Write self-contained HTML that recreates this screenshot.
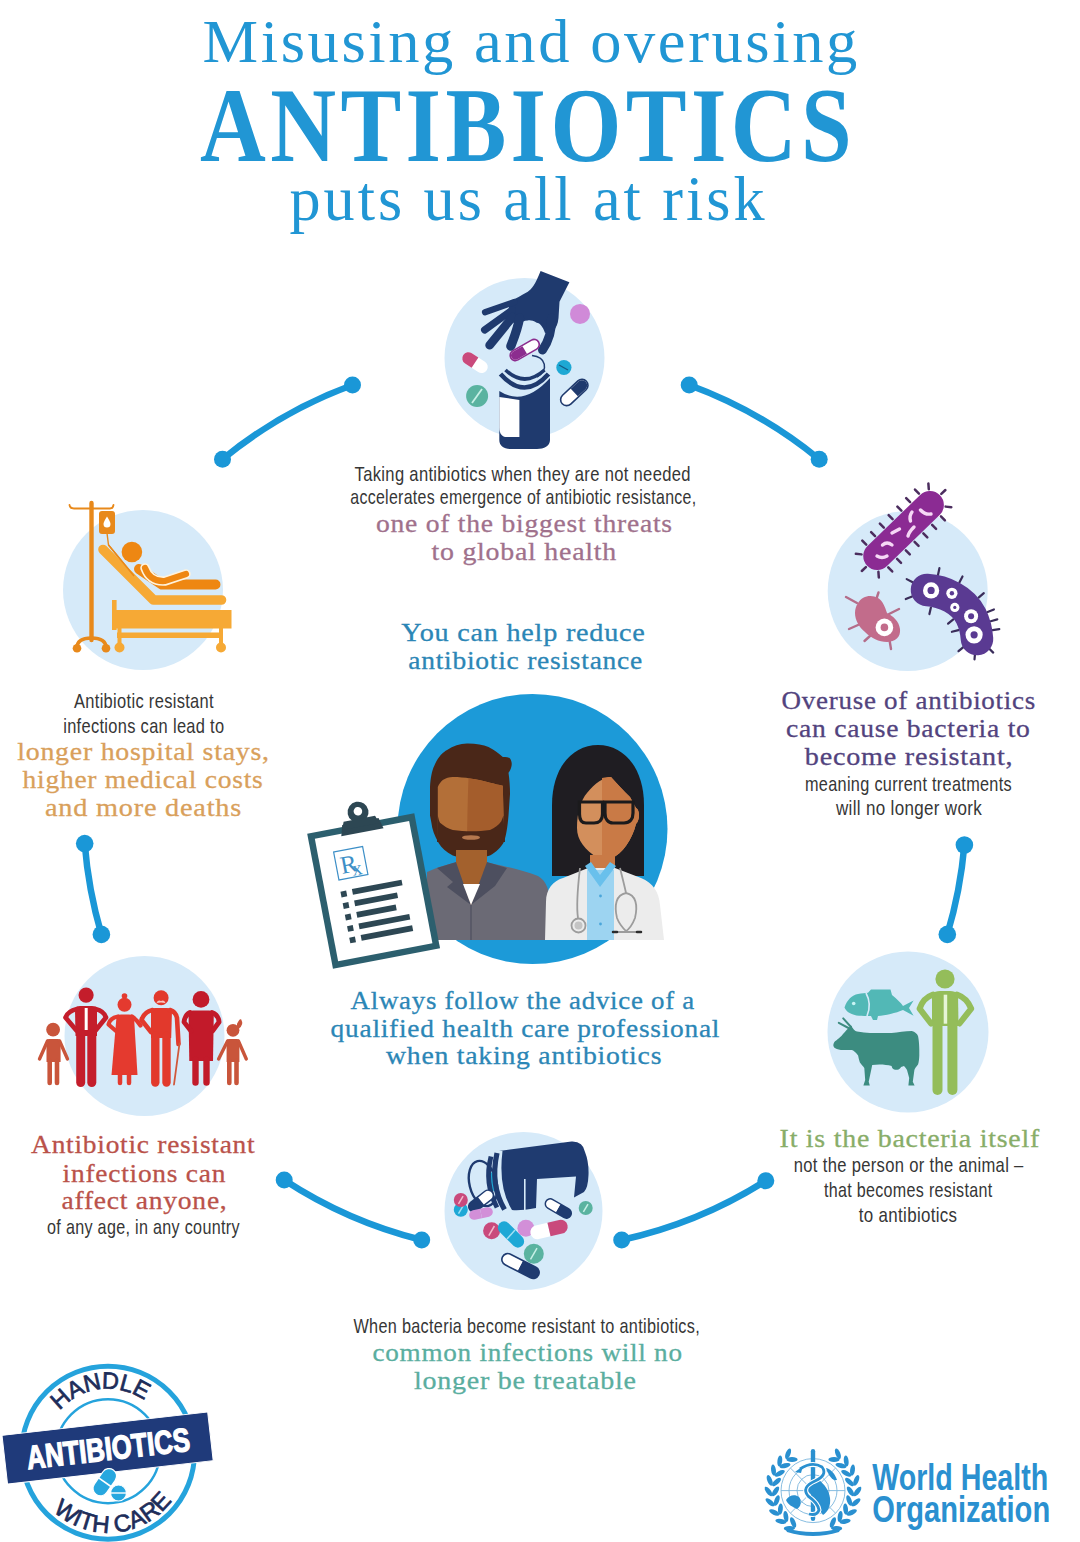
<!DOCTYPE html>
<html><head><meta charset="utf-8">
<style>
html,body{margin:0;padding:0;background:#fff;}
body{width:1080px;height:1542px;overflow:hidden;position:relative;}
svg{position:absolute;left:0;top:0;display:block;}
.ser{font-family:"Liberation Serif",serif;}
.san{font-family:"Liberation Sans",sans-serif;}
.sb{font-family:"Liberation Serif",serif;font-size:26px;stroke-width:0.3px;letter-spacing:0.7px;}
.cs{font-family:"Liberation Sans",sans-serif;font-size:21px;fill:#363636;letter-spacing:0.4px;}
</style></head>
<body>
<svg width="1080" height="1542" viewBox="0 0 1080 1542">
<!-- TITLE -->
<g fill="#2196d4" text-anchor="middle">
<text class="ser" x="531.20" y="61.6" font-size="61" letter-spacing="2.5" textLength="657.20" lengthAdjust="spacingAndGlyphs">Misusing and overusing</text>
<text class="ser" x="528" y="161" font-size="105" font-weight="bold" letter-spacing="5" textLength="656" lengthAdjust="spacingAndGlyphs">ANTIBIOTICS</text>
<text class="ser" x="528.5" y="220" font-size="63" letter-spacing="3" textLength="478" lengthAdjust="spacingAndGlyphs">puts us all at risk</text>
</g>

<!-- ARCS -->
<g stroke="#1a97d7" stroke-width="6.5" fill="none" stroke-linecap="round">
<path d="M222.5 459.2 A448 448 0 0 1 352.5 385"/>
<path d="M689.2 385 A448 448 0 0 1 819.2 459.2"/>
<path d="M84.7 843.6 A448 448 0 0 0 101.4 934.4"/>
<path d="M964.4 845 A448 448 0 0 1 947.3 934.4"/>
<path d="M284.2 1180 A448 448 0 0 0 421.7 1240"/>
<path d="M621.7 1240 A448 448 0 0 0 765.8 1180.8"/>
</g>
<g fill="#1a97d7">
<circle cx="222.5" cy="459.2" r="8.5"/><circle cx="352.5" cy="385" r="8.5"/>
<circle cx="689.2" cy="385" r="8.5"/><circle cx="819.2" cy="459.2" r="8.5"/>
<circle cx="84.7" cy="843.6" r="8.8"/><circle cx="101.4" cy="934.4" r="8.8"/>
<circle cx="964.4" cy="845" r="8.8"/><circle cx="947.3" cy="934.4" r="8.8"/>
<circle cx="284.2" cy="1180" r="8.5"/><circle cx="421.7" cy="1240" r="8.5"/>
<circle cx="621.7" cy="1240" r="8.5"/><circle cx="765.8" cy="1180.8" r="8.5"/>
</g>

<!-- CIRCLES -->
<g fill="#d6eaf9">
<circle cx="524.5" cy="358" r="80"/>
<circle cx="143" cy="590" r="80"/>
<circle cx="907.7" cy="591" r="80"/>
<circle cx="144.5" cy="1036" r="80"/>
<circle cx="908" cy="1032" r="80.5"/>
<circle cx="523.5" cy="1211" r="79"/>
</g>
<circle cx="532.5" cy="829" r="135" fill="#1c9ad8"/>

<!-- TEXT BLOCKS -->
<g text-anchor="middle">
<text class="cs" x="522.70" y="480.5" textLength="336.20" lengthAdjust="spacingAndGlyphs">Taking antibiotics when they are not needed</text>
<text class="cs" x="523.35" y="504.3" textLength="346.20" lengthAdjust="spacingAndGlyphs">accelerates emergence of antibiotic resistance,</text>
<g class="sb" fill="#a0718c" stroke="#a0718c">
<text x="524.40" y="531.5" textLength="296.80" lengthAdjust="spacingAndGlyphs">one of the biggest threats</text>
<text x="524.25" y="560" textLength="185.50" lengthAdjust="spacingAndGlyphs">to global health</text>
</g>
<g class="sb" fill="#2b86b6" stroke="#2b86b6">
<text x="523.51" y="640.5" textLength="244.25" lengthAdjust="spacingAndGlyphs">You can help reduce</text>
<text x="525.64" y="668.75" textLength="234.75" lengthAdjust="spacingAndGlyphs">antibiotic resistance</text>
<text x="522.80" y="1008.5" textLength="344.40" lengthAdjust="spacingAndGlyphs">Always follow the advice of a</text>
<text x="525.40" y="1037" textLength="389.60" lengthAdjust="spacingAndGlyphs">qualified health care professional</text>
<text x="524.10" y="1064.3" textLength="276.20" lengthAdjust="spacingAndGlyphs">when taking antibiotics</text>
</g>
<text class="cs" x="143.97" y="707.5" textLength="140.00" lengthAdjust="spacingAndGlyphs">Antibiotic resistant</text>
<text class="cs" x="143.84" y="732.5" textLength="161.25" lengthAdjust="spacingAndGlyphs">infections can lead to</text>
<g class="sb" fill="#d9a05b" stroke="#d9a05b">
<text x="143.50" y="760" textLength="252.50" lengthAdjust="spacingAndGlyphs">longer hospital stays,</text>
<text x="143.00" y="787.5" textLength="241.00" lengthAdjust="spacingAndGlyphs">higher medical costs</text>
<text x="143.50" y="816" textLength="197.00" lengthAdjust="spacingAndGlyphs">and more deaths</text>
</g>
<g class="sb" fill="#52437e" stroke="#52437e">
<text x="908.80" y="708.9" textLength="254.40" lengthAdjust="spacingAndGlyphs">Overuse of antibiotics</text>
<text x="908.30" y="736.9" textLength="244.60" lengthAdjust="spacingAndGlyphs">can cause bacteria to</text>
<text x="909.10" y="764.9" textLength="208.50" lengthAdjust="spacingAndGlyphs">become resistant,</text>
</g>
<text class="cs" x="908.50" y="790.8" textLength="207.00" lengthAdjust="spacingAndGlyphs">meaning current treatments</text>
<text class="cs" x="909.00" y="814.6" textLength="146.00" lengthAdjust="spacingAndGlyphs">will no longer work</text>
<g class="sb" fill="#ba524a" stroke="#ba524a">
<text x="143.25" y="1153.2" textLength="224.30" lengthAdjust="spacingAndGlyphs">Antibiotic resistant</text>
<text x="144.4" y="1181.7" textLength="163.6" lengthAdjust="spacingAndGlyphs">infections can</text>
<text x="144.50" y="1208.8" textLength="166.00" lengthAdjust="spacingAndGlyphs">affect anyone,</text>
</g>
<text class="cs" x="143.42" y="1233.8" textLength="192.75" lengthAdjust="spacingAndGlyphs">of any age, in any country</text>
<g class="sb" fill="#88ad68" stroke="#88ad68">
<text x="909.80" y="1147.2" textLength="260.40" lengthAdjust="spacingAndGlyphs">It is the bacteria itself</text>
</g>
<text class="cs" x="908.70" y="1171.9" textLength="229.80" lengthAdjust="spacingAndGlyphs">not the person or the animal –</text>
<text class="cs" x="908.20" y="1197" textLength="168.50" lengthAdjust="spacingAndGlyphs">that becomes resistant</text>
<text class="cs" x="908.10" y="1221.6" textLength="98.60" lengthAdjust="spacingAndGlyphs">to antibiotics</text>
<text class="cs" x="526.70" y="1333.3" textLength="346.60" lengthAdjust="spacingAndGlyphs">When bacteria become resistant to antibiotics,</text>
<g class="sb" fill="#5aae9f" stroke="#5aae9f">
<text x="527.60" y="1361.4" textLength="310.20" lengthAdjust="spacingAndGlyphs">common infections will no</text>
<text x="525.40" y="1388.8" textLength="222.80" lengthAdjust="spacingAndGlyphs">longer be treatable</text>
</g>
</g>

<!-- ICONS -->
<!-- BADGE -->
<g id="badge">
<circle cx="108" cy="1452.7" r="86.5" fill="#ffffff" stroke="#25a3dc" stroke-width="5"/>
<circle cx="108" cy="1451.2" r="52" fill="none" stroke="#25a3dc" stroke-width="2.4"/>
<defs><path id="arcTop" d="M 45.0,1441.6 A 64,64 0 0 1 171.0,1441.6"/>
<path id="arcBot" d="M 32.8,1480.1 A 80,80 0 0 0 183.2,1480.1"/></defs>
<text font-family="Liberation Sans,sans-serif" font-size="23.5" fill="#1d2d5a" stroke="#1d2d5a" stroke-width="0.7" letter-spacing="-0.3"><textPath href="#arcTop" startOffset="45.5%" text-anchor="middle">HANDLE</textPath></text>
<text font-family="Liberation Sans,sans-serif" font-size="24" fill="#1d2d5a" stroke="#1d2d5a" stroke-width="0.7" letter-spacing="0"><textPath href="#arcBot" startOffset="53.5%" text-anchor="middle">WITH CARE</textPath></text>
<g transform="translate(2,1435.4) rotate(-6.5)">
<rect x="0" y="0" width="207" height="49" fill="#1f3a7a" stroke="#ffffff" stroke-width="1"/>
<text x="104" y="36.5" font-family="Liberation Sans,sans-serif" font-weight="bold" font-size="33" fill="#ffffff" stroke="#ffffff" stroke-width="1.3" text-anchor="middle" textLength="164" lengthAdjust="spacingAndGlyphs">ANTIBIOTICS</text>
</g>
<g transform="translate(104.8,1482.2) rotate(-55)"><rect x="-15" y="-7.5" width="30" height="15" rx="7.5" fill="#27a7df" stroke="#ffffff" stroke-width="1.2"/><line x1="0" y1="-7.5" x2="0" y2="7.5" stroke="#ffffff" stroke-width="1.6"/></g>
<circle cx="118.5" cy="1493" r="8" fill="#27a7df" stroke="#ffffff" stroke-width="1.2"/><line x1="110.5" y1="1493" x2="126.5" y2="1493" stroke="#ffffff" stroke-width="1.4"/>
</g>
<!-- WHO -->
<g id="who" fill="#2a90d0">
<text x="872.2" y="1490" font-family="Liberation Sans,sans-serif" font-weight="bold" font-size="36" textLength="176" lengthAdjust="spacingAndGlyphs">World Health</text>
<text x="872.2" y="1522" font-family="Liberation Sans,sans-serif" font-weight="bold" font-size="36" textLength="178" lengthAdjust="spacingAndGlyphs">Organization</text>
<g fill="none" stroke="#7ab6dc" stroke-width="0.9"><circle cx="813" cy="1490.6" r="32"/><circle cx="813" cy="1490.6" r="24"/><circle cx="813" cy="1490.6" r="16"/><circle cx="813" cy="1490.6" r="8"/><line x1="781" y1="1490.6" x2="845" y2="1490.6"/><line x1="790.4" y1="1468.0" x2="835.6" y2="1513.1999999999998"/><line x1="790.4" y1="1513.1999999999998" x2="835.6" y2="1468.0"/></g>
<path d="M786,1500 C789,1495 795,1494 799,1497 C802,1501 801,1507 797,1509 C793,1507 788,1505 786,1500 Z"/>
<path d="M805,1486 C809,1481 814,1478 819,1480 C824,1484 829,1490 830,1498 C831,1505 828,1512 823,1515 C819,1510 818,1503 814,1497 C810,1493 806,1491 805,1486 Z"/>
<path d="M826,1468 C831,1469 835,1474 837,1480 C833,1481 829,1477 826,1468 Z"/>
<rect x="810.8" y="1449" width="4.4" height="72" rx="2.2"/>
<path d="M800,1469 Q812,1461 822,1467 Q828,1475 815,1481 Q801,1487 808,1496 Q818,1503 819,1510 Q817,1516 809,1514" fill="none" stroke="#ffffff" stroke-width="5"/>
<path d="M800,1469 Q812,1461 822,1467 Q828,1475 815,1481 Q801,1487 808,1496 Q818,1503 819,1510 Q817,1516 809,1514" fill="none" stroke="#2a90d0" stroke-width="2.8"/>
<path d="M795,1472 L803,1466 L801,1473 Z"/>
<ellipse cx="788.1" cy="1453.7" rx="5.6" ry="2.4" transform="rotate(-69.0 788.1 1453.7)"/><ellipse cx="792.0" cy="1459.5" rx="5.6" ry="2.4" transform="rotate(1.0 792.0 1459.5)"/><ellipse cx="779.8" cy="1461.0" rx="5.6" ry="2.4" transform="rotate(-83.3 779.8 1461.0)"/><ellipse cx="785.0" cy="1465.6" rx="5.6" ry="2.4" transform="rotate(-13.3 785.0 1465.6)"/><ellipse cx="773.5" cy="1470.1" rx="5.6" ry="2.4" transform="rotate(-97.5 773.5 1470.1)"/><ellipse cx="779.7" cy="1473.3" rx="5.6" ry="2.4" transform="rotate(-27.5 779.7 1473.3)"/><ellipse cx="769.7" cy="1480.4" rx="5.6" ry="2.4" transform="rotate(-111.8 769.7 1480.4)"/><ellipse cx="776.5" cy="1482.0" rx="5.6" ry="2.4" transform="rotate(-41.8 776.5 1482.0)"/><ellipse cx="768.5" cy="1491.4" rx="5.6" ry="2.4" transform="rotate(-126.0 768.5 1491.4)"/><ellipse cx="775.5" cy="1491.3" rx="5.6" ry="2.4" transform="rotate(-56.0 775.5 1491.3)"/><ellipse cx="770.1" cy="1502.3" rx="5.6" ry="2.4" transform="rotate(-140.2 770.1 1502.3)"/><ellipse cx="776.8" cy="1500.5" rx="5.6" ry="2.4" transform="rotate(-70.2 776.8 1500.5)"/><ellipse cx="774.3" cy="1512.5" rx="5.6" ry="2.4" transform="rotate(-154.5 774.3 1512.5)"/><ellipse cx="780.4" cy="1509.1" rx="5.6" ry="2.4" transform="rotate(-84.5 780.4 1509.1)"/><ellipse cx="780.9" cy="1521.4" rx="5.6" ry="2.4" transform="rotate(-168.8 780.9 1521.4)"/><ellipse cx="785.9" cy="1516.5" rx="5.6" ry="2.4" transform="rotate(-98.8 785.9 1516.5)"/><ellipse cx="789.4" cy="1528.3" rx="5.6" ry="2.4" transform="rotate(-183.0 789.4 1528.3)"/><ellipse cx="793.1" cy="1522.4" rx="5.6" ry="2.4" transform="rotate(-113.0 793.1 1522.4)"/><ellipse cx="837.9" cy="1453.7" rx="5.6" ry="2.4" transform="rotate(-111.0 837.9 1453.7)"/><ellipse cx="834.0" cy="1459.5" rx="5.6" ry="2.4" transform="rotate(-181.0 834.0 1459.5)"/><ellipse cx="846.2" cy="1461.0" rx="5.6" ry="2.4" transform="rotate(-96.8 846.2 1461.0)"/><ellipse cx="841.0" cy="1465.6" rx="5.6" ry="2.4" transform="rotate(-166.8 841.0 1465.6)"/><ellipse cx="852.5" cy="1470.1" rx="5.6" ry="2.4" transform="rotate(-82.5 852.5 1470.1)"/><ellipse cx="846.3" cy="1473.3" rx="5.6" ry="2.4" transform="rotate(-152.5 846.3 1473.3)"/><ellipse cx="856.3" cy="1480.4" rx="5.6" ry="2.4" transform="rotate(-68.2 856.3 1480.4)"/><ellipse cx="849.5" cy="1482.0" rx="5.6" ry="2.4" transform="rotate(-138.2 849.5 1482.0)"/><ellipse cx="857.5" cy="1491.4" rx="5.6" ry="2.4" transform="rotate(-54.0 857.5 1491.4)"/><ellipse cx="850.5" cy="1491.3" rx="5.6" ry="2.4" transform="rotate(-124.0 850.5 1491.3)"/><ellipse cx="855.9" cy="1502.3" rx="5.6" ry="2.4" transform="rotate(-39.8 855.9 1502.3)"/><ellipse cx="849.2" cy="1500.5" rx="5.6" ry="2.4" transform="rotate(-109.8 849.2 1500.5)"/><ellipse cx="851.7" cy="1512.5" rx="5.6" ry="2.4" transform="rotate(-25.5 851.7 1512.5)"/><ellipse cx="845.6" cy="1509.1" rx="5.6" ry="2.4" transform="rotate(-95.5 845.6 1509.1)"/><ellipse cx="845.1" cy="1521.4" rx="5.6" ry="2.4" transform="rotate(-11.3 845.1 1521.4)"/><ellipse cx="840.1" cy="1516.5" rx="5.6" ry="2.4" transform="rotate(-81.2 840.1 1516.5)"/><ellipse cx="836.6" cy="1528.3" rx="5.6" ry="2.4" transform="rotate(3.0 836.6 1528.3)"/><ellipse cx="832.9" cy="1522.4" rx="5.6" ry="2.4" transform="rotate(-67.0 832.9 1522.4)"/><path d="M785,1528 Q813,1536 841,1528 L839,1532 Q813,1540 787,1532 Z"/>
</g>
<!-- ANIMALS -->
<g id="animals">
<path fill="#52b8b6" d="M844.5,1007.5 C847,1000 852,995 858,994 C862,993.5 865,993 868,992.8 L871,989.5 L890.5,989.5 L892,995 C897,999 901,1003 903,1006 L913.6,1000.5 L909,1008 L913.6,1015.8 L903,1010 C896,1013 885,1015.5 878,1016 L877,1020 L873,1020 L871,1016 C866,1016 862,1016 859,1015.8 C852,1015 846,1012 844.5,1007.5 Z"/>
<path d="M866,993 Q872,1004 867,1016" fill="none" stroke="#d6eaf9" stroke-width="1.6"/>
<circle cx="853.7" cy="1003.5" r="1.8" fill="#c8f4f4"/>
<path fill="#3c8c80" d="M851,1025.5 C853,1029 855,1031 857,1031.6 C862,1032.5 866,1033 870,1033 L891.6,1033 C898,1032.5 905,1031 911.8,1031 C915,1032 917,1033.5 918,1036 C919,1040 919.5,1048 919.3,1055.4 C919.2,1059 918.8,1062 918,1064.5 C916,1067 915,1068 914.4,1070 L912.8,1081.7 L914.6,1085.4 L908.4,1085.4 L909.2,1078 L907,1070 C906,1068 905,1067 903.9,1066 C902,1066.5 901,1067 900.4,1068 C899.5,1069.6 897,1070 895,1069.8 C893,1069.5 892,1068 891.6,1066 C888,1065 884,1064.5 879.3,1064.5 L872.2,1065 L871.3,1069.4 L868.7,1081.7 L869.8,1085.4 L863.4,1085.4 L865.2,1080 L864.3,1068 C863,1066 861,1064 859.9,1062.4 C859,1060 858.5,1057 858.1,1055.4 C856,1052.5 854,1051 852,1050.1 L843.2,1050.1 C840,1050 837,1049.5 835.3,1048.3 C833.5,1047 833,1045.5 833.5,1043.9 C834,1042 835,1041 836.2,1040.4 C838,1039 840,1037.5 841.4,1036 C844,1033 846,1030.5 847.6,1029 Z"/>
<path d="M851,1027 L843.2,1018.4 M848.5,1028 L838.8,1022.8" stroke="#3c8c80" stroke-width="2" stroke-linecap="round"/>
<g fill="#94bd5a" stroke="#94bd5a" stroke-linecap="round" stroke-linejoin="round">
<circle cx="945" cy="979" r="9.6" stroke="none"/>
<path d="M932,994 Q935,991 940,991 L950,991 Q955,991 958,994 L958.5,1026 L932,1026 Z" stroke="none"/>
<path d="M933,994.5 Q923,998 919.6,1008.7 L931,1023.5" fill="none" stroke-width="6"/>
<path d="M957,994.5 Q967,998 971.2,1008.7 L959.5,1023.5" fill="none" stroke-width="6"/>
<path d="M937.5,1024 L937.5,1090" fill="none" stroke-width="10"/>
<path d="M952.4,1024 L952.4,1090" fill="none" stroke-width="10"/>
<rect x="943.7" y="994.7" width="3.5" height="29" fill="#e6f5d6" stroke="none"/>
</g></g>
<!-- SPILLED PILLS -->
<g id="spilled">
<ellipse cx="483" cy="1183.5" rx="13.5" ry="23" transform="rotate(-14 483 1183.5)" fill="none" stroke="#1f3b70" stroke-width="2.4"/><path d="M492,1172 Q498,1180 496,1192 Q490,1190 487,1182 Q487,1175 492,1172 Z" fill="#1ea8d6"/>
<path fill="#1f3b70" d="M499,1151 L571.5,1141.5 Q583,1141 585,1152 Q589,1162 588.5,1175 Q588,1188 584,1192 L574,1197.5 L576,1176.5 L537,1179 L536,1208 Q520,1211 512,1210 Q498,1188 502.5,1151 Z"/>
<path d="M491,1156.5 Q484,1183 497,1207.5" fill="none" stroke="#1f3b70" stroke-width="4.8"/>
<path d="M497,1153 Q490,1185 504.5,1209.5" fill="none" stroke="#1f3b70" stroke-width="5.2"/>
<path d="M524.8,1179 L524.8,1210" fill="none" stroke="#d6eaf9" stroke-width="1.6"/>

<circle cx="460.8" cy="1209.7" r="7" fill="#1ea8d6"/><line x1="458.5" y1="1213.6" x2="463.1" y2="1205.8" stroke="#9ee0f4" stroke-width="1.5"/>
<circle cx="460.8" cy="1200" r="7" fill="#c94a7c"/><line x1="458.5" y1="1203.9" x2="463.1" y2="1196.1" stroke="#f2b8cc" stroke-width="1.5"/>
<g transform="translate(481,1201) rotate(-38)"><rect x="-15.0" y="-6.0" width="30" height="12" rx="6.0" fill="#1f3b70"/><path d="M0,-4.6 L-9.0,-4.6 A4.6,4.6 0 0 0 -9.0,4.6 L0,4.6 Z" fill="#1f3b70"/><path d="M0,-4.6 L9.0,-4.6 A4.6,4.6 0 0 1 9.0,4.6 L0,4.6 Z" fill="#ffffff"/></g>
<g transform="translate(481,1213.5) rotate(-12)"><path d="M0,-4.75 L-7.25,-4.75 A4.75,4.75 0 0 0 -7.25,4.75 L0,4.75 Z" fill="#d28fd8"/><path d="M0,-4.75 L7.25,-4.75 A4.75,4.75 0 0 1 7.25,4.75 L0,4.75 Z" fill="#d28fd8"/></g>
<circle cx="491.6" cy="1230.8" r="8.5" fill="#c94a7c"/><line x1="488.8" y1="1235.6" x2="494.4" y2="1226.0" stroke="#f2b8cc" stroke-width="1.5"/>
<g transform="translate(511,1234.5) rotate(45)"><path d="M0,-6.25 L-9.75,-6.25 A6.25,6.25 0 0 0 -9.75,6.25 L0,6.25 Z" fill="#1ea8d6"/><path d="M0,-6.25 L9.75,-6.25 A6.25,6.25 0 0 1 9.75,6.25 L0,6.25 Z" fill="#1ea8d6"/></g>
<line x1="507" y1="1239" x2="515" y2="1230" stroke="#9ee0f4" stroke-width="1.4"/>
<circle cx="525.9" cy="1228.2" r="8.5" fill="#d28fd8"/>
<g transform="translate(549,1229.5) rotate(-13)"><path d="M0,-7.0 L-12.0,-7.0 A7.0,7.0 0 0 0 -12.0,7.0 L0,7.0 Z" fill="#ffffff"/><path d="M0,-7.0 L12.0,-7.0 A7.0,7.0 0 0 1 12.0,7.0 L0,7.0 Z" fill="#c94a7c"/></g>
<circle cx="533.8" cy="1253.7" r="10" fill="#5ab3a0"/><line x1="530.5" y1="1259.3" x2="537.0" y2="1248.1" stroke="#c8f0e6" stroke-width="1.5"/>
<g transform="translate(520.5,1266) rotate(27)"><rect x="-21.0" y="-6.75" width="42" height="13.5" rx="6.75" fill="#1f3b70"/><path d="M0,-5.15 L-14.249999999999998,-5.15 A5.15,5.15 0 0 0 -14.249999999999998,5.15 L0,5.15 Z" fill="#ffffff"/><path d="M0,-5.15 L14.249999999999998,-5.15 A5.15,5.15 0 0 1 14.249999999999998,5.15 L0,5.15 Z" fill="#1f3b70"/></g>
<g transform="translate(558.3,1208.5) rotate(30)"><rect x="-15.0" y="-5.75" width="30" height="11.5" rx="5.75" fill="#1f3b70"/><path d="M0,-4.25 L-9.25,-4.25 A4.25,4.25 0 0 0 -9.25,4.25 L0,4.25 Z" fill="#ffffff"/><path d="M0,-4.25 L9.25,-4.25 A4.25,4.25 0 0 1 9.25,4.25 L0,4.25 Z" fill="#1f3b70"/></g>
<circle cx="585.7" cy="1208" r="7" fill="#5ab3a0"/><line x1="583.4" y1="1211.9" x2="588.0" y2="1204.1" stroke="#c8f0e6" stroke-width="1.5"/>
</g>
<!-- PEOPLE -->
<g id="people" stroke-linecap="round" stroke-linejoin="round">
<!-- child left -->
<g fill="#c9553b" stroke="#c9553b">
<circle cx="53.1" cy="1029.7" r="6.9" stroke="none"/>
<path d="M46.5,1041 Q46.5,1039 49,1039 L58,1039 Q60.6,1039 60.6,1041 L60.6,1062 L46.5,1062 Z" stroke="none"/>
<path d="M47.5,1041 L39.5,1059" fill="none" stroke-width="3.4"/>
<path d="M59.6,1041 L67.5,1059" fill="none" stroke-width="3.4"/>
<path d="M49.7,1061 L49.7,1083" fill="none" stroke-width="4.6"/>
<path d="M57,1061 L57,1083" fill="none" stroke-width="4.6"/>
</g>
<!-- man -->
<g fill="#c41d2b" stroke="#c41d2b">
<circle cx="86.1" cy="995.1" r="7.6" stroke="none"/>
<path d="M75,1009 Q76,1006 80,1006 L92,1006 Q96.5,1006 97,1009 L97,1036 L75.5,1036 Z" stroke="none"/>
<path d="M77,1009 Q68,1011 65.5,1017.5 L76.5,1030.5" fill="none" stroke-width="4.8"/>
<path d="M95.5,1009 Q104,1011 106,1017.5 L95.5,1030.5" fill="none" stroke-width="4.8"/>
<path d="M80.7,1034 L80.7,1082.5" fill="none" stroke-width="9"/>
<path d="M91.8,1034 L91.8,1082.5" fill="none" stroke-width="9"/>
<rect x="84.7" y="1008" width="3" height="22" fill="#ffffff" stroke="none"/>
</g>
<!-- grandma -->
<g fill="#e43a2f" stroke="#e43a2f">
<circle cx="124.5" cy="1004.7" r="7" stroke="none"/>
<circle cx="124.5" cy="996" r="2.8" stroke="none"/>
<path d="M116.5,1017 Q117,1014.5 121,1014.5 L129,1014.5 Q133.5,1014.5 134,1017 L137.5,1075 L111.5,1075 Z" stroke="none"/>
<path d="M118,1016.5 Q110,1018 108.5,1024.5 L116,1031" fill="none" stroke-width="4.2"/>
<path d="M132,1016.5 Q137,1020 140.5,1025.5" fill="none" stroke-width="4.2"/>
<path d="M120,1074 L120,1083" fill="none" stroke-width="4.5"/>
<path d="M129,1074 L129,1083" fill="none" stroke-width="4.5"/>
</g>
<!-- grandpa -->
<g fill="#e2392c" stroke="#e2392c">
<circle cx="161.1" cy="997.8" r="7.5" stroke="none"/>
<path d="M151,1010 Q151.5,1008 155,1008 L167,1008 Q171.5,1008 172,1010 L171.2,1038 L151,1038 Z" stroke="none"/>
<path d="M152.5,1010 Q144,1012 141.5,1020 L151,1032" fill="none" stroke-width="4.6"/>
<path d="M170,1010 Q176,1012 177,1018 L178.5,1044" fill="none" stroke-width="4.6"/>
<path d="M155.3,1036 L155.3,1082.5" fill="none" stroke-width="8.4"/>
<path d="M166.5,1036 L166.5,1082.5" fill="none" stroke-width="8.4"/>
<path d="M179.5,1043.5 L174,1084.5" fill="none" stroke="#d0583b" stroke-width="1.8"/>
<path d="M156.5,1003 Q158,999.5 161,1001 Q164,999.5 165.5,1003 Q161,1001.8 156.5,1003 Z" fill="#f7c9c2" stroke="none"/>
</g>
<!-- woman -->
<g fill="#c21a2a" stroke="#c21a2a">
<circle cx="201" cy="999.4" r="8.4" stroke="none"/>
<path d="M188.5,1013 Q189,1010.5 193,1010.5 L209,1010.5 Q213.5,1010.5 213.8,1013 L213,1061 L189.3,1061 Z" stroke="none"/>
<path d="M190,1012.5 Q185,1015 184,1022 L191,1031" fill="none" stroke-width="4.8"/>
<path d="M212,1012.5 Q218.5,1015 219.1,1022 L212.5,1031" fill="none" stroke-width="4.8"/>
<path d="M195.5,1060 L195.5,1082.5" fill="none" stroke-width="6.4"/>
<path d="M206.5,1060 L206.5,1082.5" fill="none" stroke-width="6.4"/>
</g>
<!-- girl -->
<g fill="#c9553b" stroke="#c9553b">
<circle cx="233" cy="1030.3" r="6.4" stroke="none"/>
<path d="M238,1024 Q241,1019 240.5,1020.5 Q243,1024 238,1028 Z" stroke-width="2"/>
<path d="M226.6,1041 Q226.6,1039 229,1039 L237,1039 Q239.4,1039 239.4,1041 L239.4,1062 L226.6,1062 Z" stroke="none"/>
<path d="M227.6,1041 L218.6,1059" fill="none" stroke-width="3.4"/>
<path d="M238.4,1041 L246.3,1059" fill="none" stroke-width="3.4"/>
<path d="M229.3,1061 L229.3,1083" fill="none" stroke-width="4.6"/>
<path d="M236.5,1061 L236.5,1083" fill="none" stroke-width="4.6"/>
</g>
</g>

<!-- BACTERIA -->
<g id="bacteria">
<g transform="translate(903.6,530.5) rotate(-44.1)"><g stroke="#4b2d5e" stroke-width="2.5" stroke-linecap="round"><line x1="-36.7" y1="-15.8" x2="-36.7" y2="-21.5"/><line x1="-24.4" y1="-15.8" x2="-24.4" y2="-21.5"/><line x1="-12.2" y1="-15.8" x2="-12.2" y2="-21.5"/><line x1="0.0" y1="-15.8" x2="0.0" y2="-21.5"/><line x1="12.2" y1="-15.8" x2="12.2" y2="-21.5"/><line x1="24.4" y1="-15.8" x2="24.4" y2="-21.5"/><line x1="36.7" y1="-15.8" x2="36.7" y2="-21.5"/><line x1="-36.7" y1="15.8" x2="-36.7" y2="21.5"/><line x1="-24.4" y1="15.8" x2="-24.4" y2="21.5"/><line x1="-12.2" y1="15.8" x2="-12.2" y2="21.5"/><line x1="0.0" y1="15.8" x2="0.0" y2="21.5"/><line x1="12.2" y1="15.8" x2="12.2" y2="21.5"/><line x1="24.4" y1="15.8" x2="24.4" y2="21.5"/><line x1="36.7" y1="15.8" x2="36.7" y2="21.5"/><line x1="-46.8" y1="-12.1" x2="-50.5" y2="-16.5"/><line x1="-52.5" y1="0.0" x2="-58.2" y2="0.0"/><line x1="-46.8" y1="12.1" x2="-50.5" y2="16.5"/><line x1="46.8" y1="-12.1" x2="50.5" y2="-16.5"/><line x1="52.5" y1="0.0" x2="58.2" y2="0.0"/><line x1="46.8" y1="12.1" x2="50.5" y2="16.5"/></g><rect x="-50.7" y="-14" width="101.3" height="28" rx="14" fill="#8b2b93"/></g>
<g fill="none" stroke="#f6d8f6" stroke-width="3.4" stroke-linecap="round">
<path d="M882.5,545 Q887,541 892,545"/>
<path d="M877,556 Q882,559 887,556"/>
<path d="M892,533 L899.5,529"/>
<path d="M910.5,521 Q909,516 912,512"/>
<path d="M908,536 Q909,532 914,527"/>
<path d="M920.5,510 Q925,515 931,514"/>
</g>
<g stroke="#3a2d5a" stroke-width="2.2" stroke-linecap="round"><line x1="938.0" y1="574.9" x2="939.4" y2="568.2"/><line x1="930.9" y1="607.5" x2="929.4" y2="614.1"/><line x1="959.4" y1="582.5" x2="962.5" y2="576.5"/><line x1="978.6" y1="597.6" x2="983.8" y2="593.1"/><line x1="953.3" y1="619.3" x2="948.1" y2="623.7"/><line x1="987.6" y1="612.1" x2="993.9" y2="609.5"/><line x1="990.7" y1="621.2" x2="997.3" y2="619.4"/><line x1="958.5" y1="630.1" x2="951.9" y2="631.8"/><line x1="992.6" y1="630.2" x2="999.3" y2="629.2"/><line x1="912.1" y1="596.4" x2="905.8" y2="599.0"/><line x1="912.7" y1="582.3" x2="906.7" y2="579.1"/><line x1="988.3" y1="647.8" x2="993.2" y2="652.6"/><line x1="975.1" y1="652.6" x2="974.5" y2="659.4"/><line x1="963.7" y1="646.8" x2="958.5" y2="651.2"/></g>
<path d="M927,590 C944,591 963,600 971,616 C974,622 976.5,632 977,639" fill="none" stroke="#5a3a92" stroke-width="32.5" stroke-linecap="round"/>
<circle cx="931.1" cy="590.4" r="8.1" fill="#ffffff"/><circle cx="931.1" cy="590.4" r="3.6" fill="#5a3a92"/>
<circle cx="951.9" cy="593.3" r="5.6" fill="#ffffff"/><circle cx="951.9" cy="593.3" r="2.2" fill="#5a3a92"/>
<circle cx="954.8" cy="607.4" r="4.6" fill="#ffffff"/><circle cx="954.8" cy="607.4" r="1.6" fill="#5a3a92"/>
<circle cx="971.1" cy="616.3" r="7" fill="#ffffff"/><circle cx="971.1" cy="616.3" r="3" fill="#5a3a92"/>
<circle cx="974.1" cy="634.8" r="8.6" fill="#ffffff"/><circle cx="974.1" cy="634.8" r="3.6" fill="#5a3a92"/>
<g stroke="#b46d8a" stroke-width="2.4" stroke-linecap="round"><line x1="846" y1="597" x2="857" y2="603"/><line x1="878.5" y1="592.5" x2="876" y2="600"/><line x1="899" y1="609" x2="889" y2="614"/><line x1="849" y1="629" x2="858" y2="625"/><line x1="864.5" y1="641" x2="870" y2="636"/><line x1="891" y1="649" x2="889.5" y2="640"/></g>
<path fill="#c26c8b" d="M858,603 C862,596 871,594 878,598 C883,601 885,607 887,613 C893,616 899,621 900,629 C901,637 895,642 887,642 C879,642 871,638 865,632 C859,627 855,620 855,613 C855,609 856,606 858,603 Z"/>
<circle cx="884.4" cy="627.4" r="8.8" fill="#ffffff"/><circle cx="884.4" cy="627.4" r="3.8" fill="#c26c8b"/>
</g>
<!-- HOSPITAL -->
<g id="hospital">
<g fill="none" stroke="#e8891b" stroke-linecap="round">
<line x1="91.5" y1="503" x2="91.5" y2="640" stroke-width="4.4"/>
<path d="M69.5,505 Q70,508.5 74,508.5 L110,508.5 Q113,508.5 113.5,505" stroke-width="1.8"/>
<path d="M77,648 Q77,638 91.5,638 Q106,638 106,648" stroke-width="3.6"/>
<path d="M107,533 L108.5,545 L134,576" stroke-width="1.4"/>
</g>
<circle cx="77" cy="648.3" r="4.3" fill="#e8891b"/>
<circle cx="106" cy="648.3" r="4.3" fill="#e8891b"/>
<rect x="99" y="511" width="16" height="23" rx="3" fill="#e8891b"/>
<path d="M107,516.5 Q103.5,522 103.5,524 A3.5,3.5 0 0 0 110.5,524 Q110.5,522 107,516.5 Z" fill="#ffffff"/>
<path d="M103,549.5 L153.5,600 L221.5,600" fill="none" stroke="#f6a935" stroke-width="9.6" stroke-linecap="round" stroke-linejoin="round"/>
<path d="M108.5,545 L134,576" fill="none" stroke="#e8891b" stroke-width="1.4"/>
<circle cx="131.9" cy="552" r="10.3" fill="#ee8712"/>
<path d="M139,569 L162,584.5 L215.5,584.5" fill="none" stroke="#ee8712" stroke-width="10" stroke-linecap="round" stroke-linejoin="round"/>
<path d="M145,568 Q150,582 165,581 L186,574" fill="none" stroke="#fff3dd" stroke-width="9.5" stroke-linecap="round"/>
<path d="M145,568 Q150,582 165,581 L186,574" fill="none" stroke="#ee8712" stroke-width="6.2" stroke-linecap="round"/>
<g fill="#f6a935">
<rect x="112" y="600" width="4.6" height="30"/>
<rect x="112" y="610" width="119.5" height="18.5"/>
<rect x="117" y="632.5" width="105" height="5.5"/>
<rect x="117.5" y="628" width="4" height="18"/>
<rect x="219" y="628" width="4" height="18"/>
<circle cx="119.5" cy="647.5" r="5"/>
<circle cx="221" cy="647.5" r="5"/>
</g>
</g>

<!-- DOCTORS -->
<g id="doctors">
<!-- man -->
<path fill="#4a2718" d="M430,815.6 L430,787 C430.5,778 432,770 434.3,765.7 C438,757 443,752 447.1,750 C453,746 460,744 467,743.6 C476,743.5 483,745 488.5,747 C495,750 499,754 502.8,757 C506,757 509,757 510,758.5 C512,761 512,765 511.3,767 C510.5,770 509.5,771.5 508.5,772.8 C509.5,780 510,787 510,794 L508.5,815.6 C507.5,828 506,836 504.2,841.3 C501,848 496,852 490,855.6 C484,857.5 478,858.4 471.4,858.4 C464,858.4 458,857.5 452.8,855.6 C446,852 441.5,848 438.5,842.7 C434.5,836 432,829 431.4,822.8 Z"/>
<path fill="#b36f38" d="M437.8,815.6 L437.8,787 C439,784 441,781.5 442.8,780 C446,778 449,777 452.8,777 C459,777 465,777.5 470,778.5 C477,779.5 484,781 490,782.8 C495,784 499,785 502.8,785.7 L503.5,815.6 L503.5,838 L437.8,838 Z"/>
<path fill="#a45d2c" d="M468.5,778.2 C477,779.5 484,781 490,782.8 C495,784 499,785 502.8,785.7 L503.5,815.6 L503.5,838 L467,838 C467.5,808 468,790 468.5,778.2 Z"/>
<path fill="#4a2718" d="M437.8,815.6 C438.5,819 439,821 440,822.8 C444,826 448,829 452.8,830 C459,831 465,831.3 471.4,831.3 C478,831.3 484,831 490,830 C495,828 498.5,825 501.3,821.3 L503.5,815.6 L505,842 L437,842 Z"/>
<ellipse cx="471" cy="837.5" rx="9" ry="2.3" fill="#b5784e"/>
<path fill="#6b6a75" d="M427,872 C440,866 452,863 460,862 L483,862 C497,864 522,870 538,876 C547,881 550,892 550,905 L551,940 L427,940 Z"/>
<path fill="#a3612d" d="M456,850 L487,850 L487,866 L481,884 L471,905 L462,884 L456,866 Z"/>
<path fill="#4d4f5f" d="M437,868 L456,862 L471,905 L447,887 L453,882 Z"/>
<path fill="#4d4f5f" d="M487,862 L507,868 L495,886 L471,905 Z"/>
<path fill="#ffffff" d="M463,884 L480,884 L471,905 Z"/>
<line x1="471" y1="905" x2="471" y2="940" stroke="#4d4f5f" stroke-width="1.2"/>
<!-- woman -->
<path fill="#1f1d22" d="M552,876 L552,805 C552,768 572,745 598,745 C624,745 644,768 644,805 L644,876 Z"/>
<path fill="#d38f5c" d="M587,793 C595,783 604,777 611,777 C617,784 623,790 630,797 L636,808 C640,810 640,820 636,824 C632,840 622,854 612,858 L598,858 C585,850 577,840 577,828 C577,812 581,800 587,793 Z"/>
<path fill="#c97a46" d="M602,778 C606,777 609,777 611,777 C617,784 623,790 630,797 L636,808 C640,810 640,820 636,824 C632,840 622,854 612,858 L602,858 Z"/>
<path fill="#c97a46" d="M590,855 L615,855 L615,878 L590,878 Z"/>
<g fill="none" stroke="#1b1a1c" stroke-width="3.2">
<path d="M579.5,802 L602.5,802 L602.5,814 C602.5,820 599,823 594,823 L586,823 C581,823 579.5,819 579.5,814 Z"/>
<path d="M605,802 L633,802 L633,813 C633,819 630,823 624,823 L613,823 C608,823 605,819 605,813 Z"/>
</g>
<path fill="#ececec" d="M545,940 L546,902 C546,889 553,881 563,878 L588,868 L615,868 L641,878 C653,883 659,892 660,905 L664,940 Z"/>
<rect x="587" y="870" width="27" height="70" fill="#9dd4f1"/>
<path fill="#69c0ec" d="M585,866 L600,887 L616,866 L610,862 L600,875 L591,862 Z"/>
<circle cx="600.5" cy="896" r="1.4" fill="#4aa6da"/>
<circle cx="600.5" cy="924" r="1.4" fill="#4aa6da"/>
<g fill="none" stroke="#9c9c9c" stroke-width="1.8">
<path d="M580,868 C578,885 576,905 578,918"/>
<circle cx="578.5" cy="925.5" r="7"/>
<path d="M620,868 C623,880 625,888 626,893 C616,895 614,905 617,918 C620,926 625,930 627,932 M626,893 C636,895 638,905 635,918 C632,926 628,930 625,932 M613,932 L641,932"/>
</g>
<circle cx="578.5" cy="925.5" r="4" fill="#c4c4c4"/>
<g stroke="#2c2c2c" stroke-width="2.5" stroke-linecap="round"><line x1="613" y1="932" x2="617" y2="932"/><line x1="637" y1="932" x2="641" y2="932"/></g>
</g>
<!-- CLIPBOARD -->
<g transform="translate(307.2,833.7) rotate(-10.8)">
<rect x="0" y="0" width="109" height="137.5" fill="#2c5f6e"/>
<rect x="6.5" y="6.5" width="96" height="124.5" fill="#ffffff"/>
<path fill="#2d4753" d="M36,-2 L73,-2 L76,9 L33,9 Z"/>
<circle cx="54" cy="-11.6" r="10.5" fill="#2d4753"/><path fill="#2d4753" d="M38,-5 L70,-5 L73,3 L35,3 Z"/>
<circle cx="54" cy="-12.5" r="4.3" fill="#ffffff"/>
<rect x="22.5" y="23" width="29.5" height="28.5" fill="none" stroke="#3d8fc7" stroke-width="1.2"/>
<text x="37" y="46" font-family="Liberation Serif,serif" font-size="25" fill="#3d8fc7" text-anchor="middle">R<tspan font-size="20" dx="-6" dy="4">x</tspan></text>
<g fill="#2d4753">
<rect x="21.8" y="63.2" width="5.8" height="5.8"/><rect x="21.8" y="74.9" width="5.8" height="5.8"/><rect x="21.8" y="86.6" width="5.8" height="5.8"/><rect x="21.8" y="98.3" width="5.8" height="5.8"/><rect x="21.8" y="110" width="5.8" height="5.8"/>
<rect x="33.5" y="62.8" width="50.5" height="5.8"/><rect x="33.5" y="74.5" width="43.7" height="5.8"/><rect x="33.5" y="86.2" width="40.1" height="5.8"/><rect x="33.5" y="97.9" width="51.7" height="5.8"/><rect x="33.5" y="109.6" width="52.4" height="5.8"/>
</g>
</g>
<!-- TOP PILL ICON -->
<g id="pillhand">
<g fill="#1f3a6e" stroke="#1f3a6e" stroke-linecap="round" stroke-linejoin="round">
<path stroke="none" d="M540.6,271.1 L569.4,282.2 L559.5,301.7 L558.5,318 C558,324 556,328 553,331 L545,333 C543,327 540,323 536.7,322.8 C533,320.5 530,320 527.8,320.5 C524,320.5 521,322 519,325 L512,322 L508,313 L510,301 C515,299 522,295 527.8,291.7 C532,289 535,285 540.6,271.1 Z"/>
<line x1="514.4" y1="302" x2="485" y2="312.2" stroke-width="6.2"/>
<line x1="512.2" y1="310" x2="484.6" y2="330" stroke-width="7.2"/>
<line x1="512.5" y1="317" x2="489.6" y2="345.2" stroke-width="8.6"/>
<path d="M519.5,318 C518,328 514,338 510.8,346.2" fill="none" stroke-width="9.2"/>
<path d="M551.5,318 C552,330 548,342 542.5,350" fill="none" stroke-width="9"/>
</g>
<g transform="translate(524.7,350) rotate(-30)">
<rect x="-16" y="-5.2" width="32" height="10.4" rx="5.2" fill="#ffffff" stroke="#8c2d8f" stroke-width="1.6"/>
<path d="M-10.8,-4.4 L0,-4.4 L0,4.4 L-10.8,4.4 A4.4,4.4 0 0 1 -10.8,-4.4 Z" fill="#8c2d8f"/>
</g>
<path d="M532,355.5 C546,357 549,370 537,377" fill="none" stroke="#1f3a6e" stroke-width="1.5"/>
<path d="M505.5,370 Q524.5,388 544.5,370" fill="none" stroke="#1f3a6e" stroke-width="3.6"/>
<path d="M500.5,374 Q524.5,401 548.5,374" fill="none" stroke="#1f3a6e" stroke-width="4.6"/>
<path fill="#1f3a6e" d="M499.3,391 Q524,407 550,378 L550,440 C550,446 544,449 537,449 L511,449 C504,449 499.3,446 499.3,440 Z"/>
<path d="M499.3,397 L519.4,400 L519.4,437 L505,437 C501,436 499.3,432 499.3,428 Z" fill="#ffffff"/>
<g transform="translate(475,362.6) rotate(33)">
<rect x="-14" y="-6.2" width="28" height="12.4" rx="6.2" fill="#ffffff"/>
<path d="M-7.8,-6.2 L0,-6.2 L0,6.2 L-7.8,6.2 A6.2,6.2 0 0 1 -7.8,-6.2 Z" fill="#c94a7c"/>
</g>
<circle cx="477.1" cy="396" r="11" fill="#5ab3a0"/>
<line x1="472" y1="403" x2="482" y2="389" stroke="#c8f0e6" stroke-width="1.8"/>
<circle cx="563.9" cy="367.5" r="7.6" fill="#1ea8d4"/>
<line x1="559" y1="365" x2="568" y2="370" stroke="#165c86" stroke-width="1.4"/>
<g transform="translate(574.3,392.5) rotate(-43)">
<rect x="-16.5" y="-6" width="33" height="12" rx="6" fill="#ffffff" stroke="#1f3a6e" stroke-width="1.6"/>
<path d="M0,-5.2 L10.5,-5.2 A5.2,5.2 0 0 1 10.5,5.2 L0,5.2 Z" fill="#1f3a6e"/>
</g>
<circle cx="580" cy="313.9" r="10" fill="#d08ad8"/>
</g>

</svg>
</body></html>
